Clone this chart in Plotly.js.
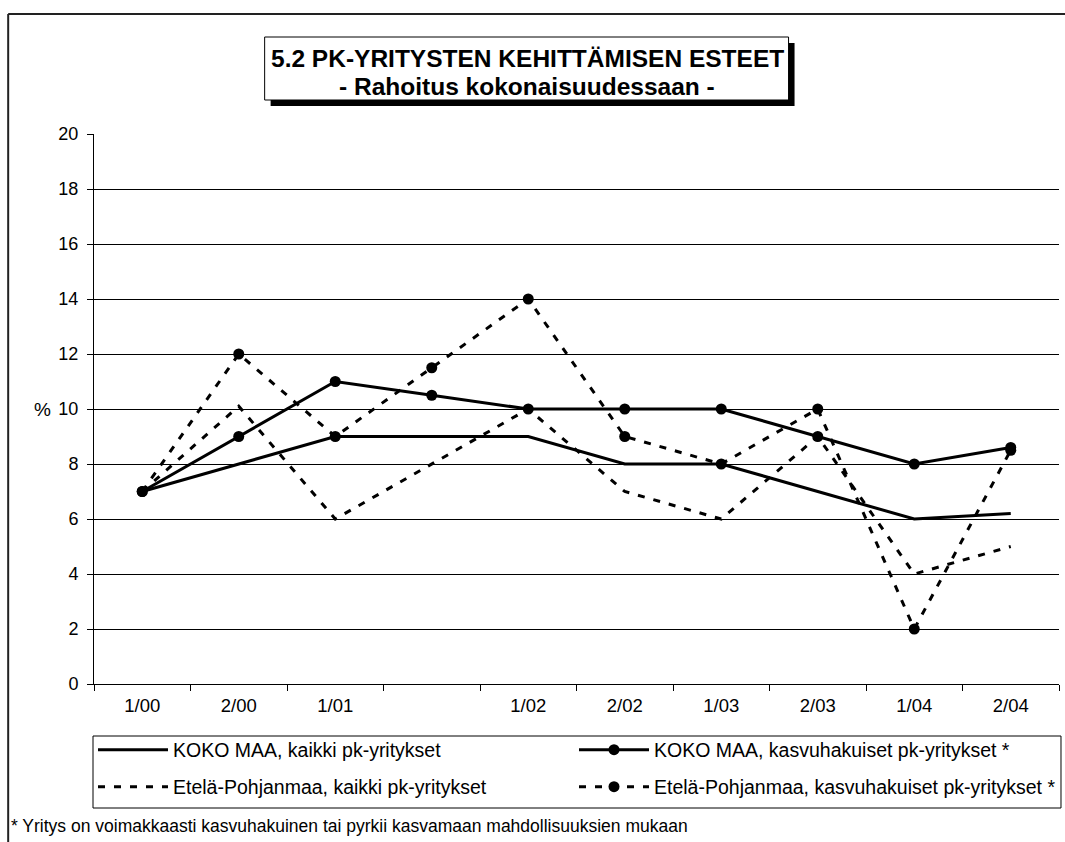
<!DOCTYPE html>
<html>
<head>
<meta charset="utf-8">
<script src="https://cdn.plot.ly/plotly-3.0.1.min.js"></script>
<style>
html,body{margin:0;padding:0;background:#fff;}
#chart{width:1065px;height:842px;}
</style>
</head>
<body>
<div id="chart"></div>
<script>
// ---- data ----
const periods = ['1/00','2/00','1/01','2/01','1/02','2/02','1/03','2/03','1/04','2/04'];
const tickLabels = ['1/00','2/00','1/01','','1/02','2/02','1/03','2/03','1/04','2/04'];
const kokoKaikki = [7, 8, 9, 9, 9, 8, 8, 7, 6, 6.2];
const kokoKasvu  = [7, 9, 11, 10.5, 10, 10, 10, 9, 8, 8.6];
const epKaikki   = [7, 10.1, 6, 8, 10, 7, 6, 9, 4, 5];
const epKasvu    = [7, 12, 9, 11.5, 14, 9, 8, 10, 2, 8.5];
const seriesNames = [
  'KOKO MAA, kaikki pk-yritykset',
  'KOKO MAA, kasvuhakuiset pk-yritykset *',
  'Etelä-Pohjanmaa, kaikki pk-yritykset',
  'Etelä-Pohjanmaa, kasvuhakuiset pk-yritykset *'
];
const titleLine1 = '5.2 PK-YRITYSTEN KEHITTÄMISEN ESTEET';
const titleLine2 = '- Rahoitus kokonaisuudessaan -';
const footnote = '* Yritys on voimakkaasti kasvuhakuinen tai pyrkii kasvamaan mahdollisuuksien mukaan';

// ---- pixel helpers (plot area 94..1061 x, 134..684 y) ----
const PL = 94, PR = 1061, PT = 134, PB = 684;
const px = X => (X - PL) / (PR - PL);
const py = Y => (PB - Y) / (PB - PT);

const FONT = 'Arial, "Liberation Sans", sans-serif';
const DASH = '7px,9px';

function tr(y, name, mode, dash, legendId) {
  return {
    x: periods, y: y, name: name, type: 'scatter', mode: mode,
    line: {color: '#000', width: 3, dash: dash},
    marker: {color: '#000', size: 11, symbol: 'circle'},
    legend: legendId
  };
}
const data = [
  tr(kokoKaikki, seriesNames[0], 'lines', 'solid', 'legend'),
  tr(kokoKasvu, seriesNames[1], 'lines+markers', 'solid', 'legend2'),
  tr(epKaikki, seriesNames[2], 'lines', DASH, 'legend3'),
  tr(epKasvu, seriesNames[3], 'lines+markers', DASH, 'legend4')
];

function leg(X, Y) {
  return {
    x: px(X), y: py(Y), xanchor: 'left', yanchor: 'middle',
    xref: 'paper', yref: 'paper',
    bgcolor: 'rgba(0,0,0,0)', borderwidth: 0,
    font: {family: FONT, size: 19.5, color: '#000'},
    itemwidth: 70, itemclick: false, itemdoubleclick: false
  };
}

const layout = {
  width: 1065, height: 842,
  margin: {l: PL, r: 1065 - PR, t: PT, b: 842 - PB, pad: 0},
  paper_bgcolor: '#fff', plot_bgcolor: '#fff',
  font: {family: FONT, size: 18, color: '#000'},
  showlegend: true,
  xaxis: {
    type: 'category', categoryorder: 'array', categoryarray: periods,
    tickmode: 'array', tickvals: periods, ticktext: tickLabels,
    tickson: 'boundaries', ticks: 'outside', ticklen: 6, tickcolor: '#000', tickwidth: 1,
    ticklabelstandoff: 5,
    showgrid: false, showline: true, linecolor: '#000', linewidth: 1,
    zeroline: false, range: [-0.5, 9.5], fixedrange: true,
    tickfont: {family: FONT, size: 18.5, color: '#000'}
  },
  yaxis: {
    range: [0, 20], tickvals: [0,2,4,6,8,10,12,14,16,18,20],
    ticks: 'outside', ticklen: 6, tickcolor: '#000', tickwidth: 1,
    ticklabelstandoff: 5,
    showgrid: true, gridcolor: '#000', gridwidth: 1,
    showline: true, linecolor: '#000', linewidth: 1,
    zeroline: false, fixedrange: true,
    tickfont: {family: FONT, size: 18, color: '#000'}
  },
  legend: leg(93, 750),
  legend2: leg(575, 750),
  legend3: leg(93, 787),
  legend4: leg(575, 787),
  shapes: [
    // outer frame (top and left edges)
    {type: 'line', xref: 'paper', yref: 'paper', x0: px(8), x1: px(1070), y0: py(14), y1: py(14), line: {color: '#222', width: 2}},
    {type: 'line', xref: 'paper', yref: 'paper', x0: px(8), x1: px(8), y0: py(14), y1: py(850), line: {color: '#222', width: 2}},
    // title box shadow and box
    {type: 'rect', xref: 'paper', yref: 'paper', x0: px(271), x1: px(796), y0: py(43), y1: py(106), fillcolor: '#000', line: {width: 0}, layer: 'above'},
    {type: 'rect', xref: 'paper', yref: 'paper', x0: px(265), x1: px(790), y0: py(37), y1: py(100), fillcolor: '#fff', line: {color: '#000', width: 1}, layer: 'above'},
    // legend box
    {type: 'rect', xref: 'paper', yref: 'paper', x0: px(93), x1: px(1063), y0: py(736), y1: py(808), fillcolor: 'rgba(0,0,0,0)', line: {color: '#000', width: 1}}
  ],
  annotations: [
    {text: '<b>' + titleLine1 + '</b>', xref: 'paper', yref: 'paper', x: px(528), y: py(58), xanchor: 'center', yanchor: 'middle', showarrow: false, font: {family: FONT, size: 24.5, color: '#000'}},
    {text: '<b>' + titleLine2 + '</b>', xref: 'paper', yref: 'paper', x: px(528), y: py(86), xanchor: 'center', yanchor: 'middle', showarrow: false, font: {family: FONT, size: 24.5, color: '#000'}},
    {text: '%', xref: 'paper', yref: 'paper', x: px(42), y: py(409), xanchor: 'center', yanchor: 'middle', showarrow: false, font: {family: FONT, size: 19, color: '#000'}},
    {text: footnote, xref: 'paper', yref: 'paper', x: px(9), y: py(826), xanchor: 'left', yanchor: 'middle', showarrow: false, font: {family: FONT, size: 17.5, color: '#000'}}
  ]
};

Plotly.newPlot('chart', data, layout, {displayModeBar: false, staticPlot: true});
</script>
</body>
</html>
